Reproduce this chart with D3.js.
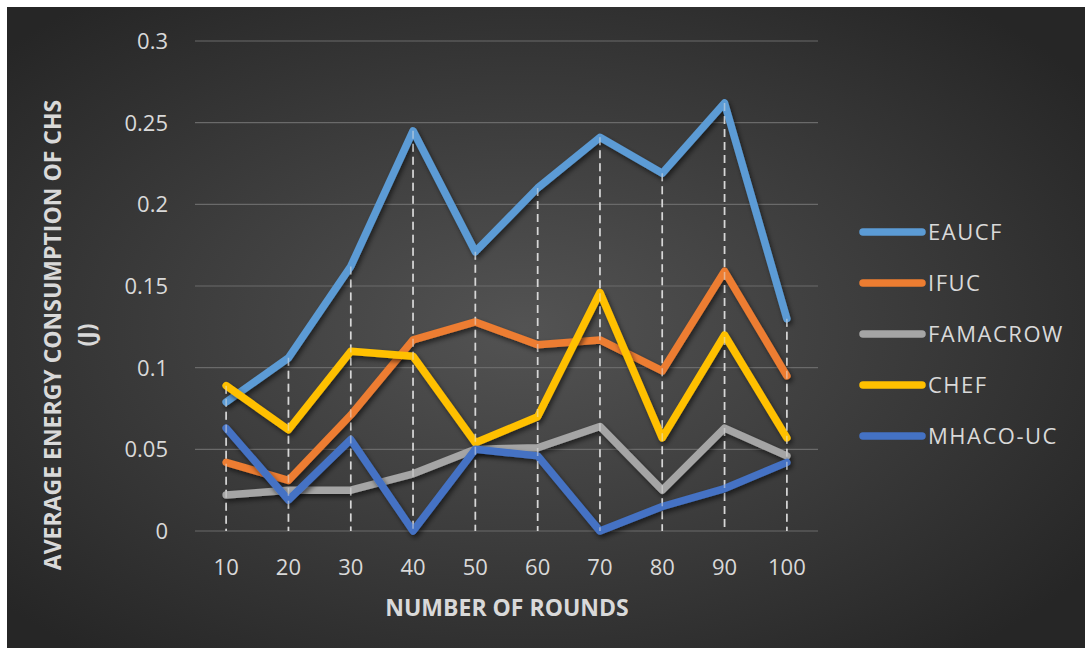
<!DOCTYPE html>
<html>
<head>
<meta charset="utf-8">
<script src="https://cdn.jsdelivr.net/npm/d3@7"></script>
<style>
  html, body { margin: 0; padding: 0; background: #fff; }
  svg { display: block; }
  text { font-family: "Open Sans", "Noto Sans", sans-serif; fill: #d9d9d9; }
</style>
</head>
<body>
<div id="chart"></div>
<script>
const rounds = [10, 20, 30, 40, 50, 60, 70, 80, 90, 100];
const seriesNames = ["EAUCF", "IFUC", "FAMACROW", "CHEF", "MHACO-UC"];
const seriesColors = ["#5b9bd5", "#ed7d31", "#a5a5a5", "#ffc000", "#4472c4"];
const eaucf    = [0.079, 0.106, 0.162, 0.245, 0.171, 0.210, 0.241, 0.219, 0.262, 0.130];
const ifuc     = [0.042, 0.031, 0.071, 0.117, 0.128, 0.114, 0.117, 0.098, 0.159, 0.095];
const famacrow = [0.022, 0.025, 0.025, 0.035, 0.050, 0.051, 0.064, 0.025, 0.063, 0.046];
const chef     = [0.089, 0.062, 0.110, 0.107, 0.054, 0.070, 0.146, 0.057, 0.120, 0.057];
const mhacouc  = [0.063, 0.019, 0.056, 0.000, 0.050, 0.046, 0.000, 0.015, 0.026, 0.042];
const yTicks = [0, 0.05, 0.1, 0.15, 0.2, 0.25, 0.3];

const allSeries = [eaucf, ifuc, famacrow, chef, mhacouc].map((values, i) => ({
  name: seriesNames[i], color: seriesColors[i], values
}));

const width = 1092, height = 655;
const svg = d3.select('#chart').append('svg')
  .attr('width', width).attr('height', height);

const defs = svg.append('defs');
const grad = defs.append('radialGradient')
  .attr('id', 'bg').attr('cx', '48%').attr('cy', '50%').attr('r', '65%');
grad.append('stop').attr('offset', '0%').attr('stop-color', '#535353');
grad.append('stop').attr('offset', '100%').attr('stop-color', '#262626');

const shadow = defs.append('filter').attr('id', 'shadow')
  .attr('x', '-10%').attr('y', '-10%').attr('width', '120%').attr('height', '130%');
shadow.append('feDropShadow')
  .attr('dx', 2).attr('dy', 3).attr('stdDeviation', 2.5)
  .attr('flood-color', '#000').attr('flood-opacity', 0.55);

svg.append('rect')
  .attr('x', 7).attr('y', 7).attr('width', 1078).attr('height', 641)
  .attr('fill', 'url(#bg)');

const plot = { left: 195, right: 818, top: 41, bottom: 531 };

const x = d3.scaleBand().domain(rounds).range([plot.left, plot.right]);
const y = d3.scaleLinear().domain([0, 0.3]).range([plot.bottom, plot.top]);
const cx = d => x(d) + x.bandwidth() / 2;

// gridlines
svg.append('g')
  .selectAll('line')
  .data(yTicks)
  .join('line')
    .attr('x1', plot.left).attr('x2', plot.right)
    .attr('y1', d => y(d)).attr('y2', d => y(d))
    .attr('stroke', '#6a6a6a').attr('stroke-width', 1.2);

// y tick labels
svg.append('g')
  .selectAll('text')
  .data(yTicks)
  .join('text')
    .attr('x', 168)
    .attr('y', d => y(d))
    .attr('dy', '0.36em')
    .attr('text-anchor', 'end')
    .style('font-size', '22px')
    .text(d => d);

// x tick labels
svg.append('g')
  .selectAll('text')
  .data(rounds)
  .join('text')
    .attr('x', d => cx(d))
    .attr('y', 575)
    .attr('text-anchor', 'middle')
    .style('font-size', '22px')
    .text(d => d);

// drop lines from the highest point of each category
const highest = rounds.map((r, i) => d3.max(allSeries, s => s.values[i]));
svg.append('g')
  .selectAll('line')
  .data(rounds)
  .join('line')
    .attr('x1', d => cx(d)).attr('x2', d => cx(d))
    .attr('y1', (d, i) => y(highest[i])).attr('y2', plot.bottom)
    .attr('stroke', '#c8c8c8').attr('stroke-width', 1.6)
    .attr('stroke-dasharray', '8,5');

const line = d3.line()
  .x((d, i) => cx(rounds[i]))
  .y(d => y(d));

svg.append('g')
  .selectAll('path')
  .data(allSeries)
  .join('path')
    .attr('d', d => line(d.values))
    .attr('fill', 'none')
    .attr('stroke', d => d.color)
    .attr('stroke-width', 7.5)
    .attr('stroke-linejoin', 'round')
    .attr('stroke-linecap', 'round')
    .attr('filter', 'url(#shadow)');

// dashes drawn again on top so they show through the lines
svg.append('g')
  .selectAll('line')
  .data(rounds)
  .join('line')
    .attr('x1', d => cx(d)).attr('x2', d => cx(d))
    .attr('y1', (d, i) => y(highest[i])).attr('y2', plot.bottom)
    .attr('stroke', '#e6e6e6').attr('stroke-opacity', 0.5).attr('stroke-width', 1.6)
    .attr('stroke-dasharray', '8,5');

// axis titles
svg.append('text')
  .attr('x', 507).attr('y', 616)
  .attr('text-anchor', 'middle')
  .style('font-size', '23px').style('font-weight', 'bold')
  .text('NUMBER OF ROUNDS');

const yTitle = svg.append('text')
  .attr('transform', 'translate(61,335) rotate(-90)')
  .attr('text-anchor', 'middle')
  .style('font-size', '23px').style('font-weight', 'bold');
yTitle.append('tspan').attr('x', 0).attr('y', 0).text('AVERAGE ENERGY CONSUMPTION OF CHS');
yTitle.append('tspan').attr('x', 0).attr('y', 34).text('(J)');

// legend
const legend = svg.append('g')
  .selectAll('g')
  .data(allSeries)
  .join('g')
    .attr('transform', (d, i) => `translate(0,${232 + i * 51})`);

legend.append('line')
  .attr('x1', 863).attr('x2', 922)
  .attr('stroke', d => d.color)
  .attr('stroke-width', 7.5)
  .attr('stroke-linecap', 'round');

legend.append('text')
  .attr('x', 928)
  .attr('dy', '0.36em')
  .style('font-size', '22px')
  .style('letter-spacing', '1.5px')
  .text(d => d.name);
</script>
</body>
</html>
